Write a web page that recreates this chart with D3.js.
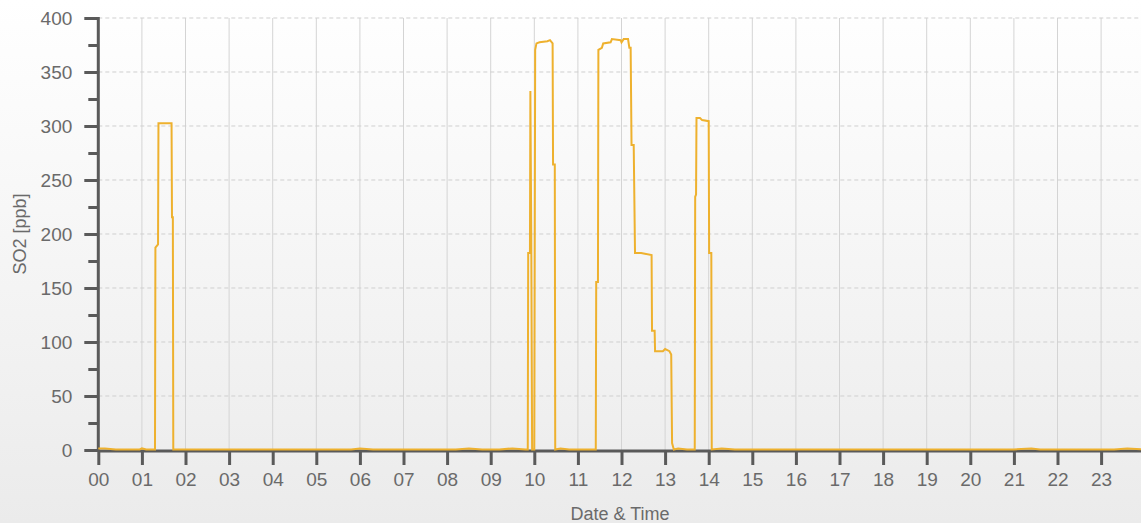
<!DOCTYPE html>
<html><head><meta charset="utf-8">
<script src="https://cdn.jsdelivr.net/npm/d3@7"></script>
<style>html,body{margin:0;padding:0;overflow:hidden;background:#fff}</style>
</head><body><svg id="c" width="1141" height="523"></svg>
<script>
// Data (hours of day, SO2 ppb)
const hours = [0,0.15,0.4,0.6,0.95,1.0,1.1,1.28,
 1.30,1.31,1.37,1.38,1.68,1.69,1.71,1.72,
 2.0,2.5,3.0,4,5,5.8,6.0,6.3,6.6,7.3,7.6,8.2,8.5,8.8,9.2,9.5,9.8,
 9.85,9.86,9.90,9.91,9.93,9.95,10.0,10.02,10.05,10.12,10.3,10.36,10.42,10.43,10.47,10.48,
 10.6,10.8,11.4,
 11.41,11.42,11.46,11.47,11.55,11.58,11.75,11.78,11.98,12.0,12.05,12.15,12.18,12.21,12.23,12.28,12.31,12.45,12.69,12.70,12.76,12.77,12.95,13.0,13.1,13.14,13.16,13.2,
 13.3,13.5,13.67,
 13.68,13.69,13.71,13.72,13.8,13.85,14.0,14.01,14.06,14.07,
 14.3,14.6,15.5,16,17,18,19,20,20.5,21,21.4,21.6,22,22.4,22.8,23.3,23.6,24];
const so2 = [1,1,0,0,0,1,0,0,
 0,187,190,302,302,215,215,0,
 0,0,0,0,0,0,1,0,0,0,0,0,1,0,0,1,0,
 0,182,182,332,200,0,0,370,376,377,378,379,376,264,264,0,
 1,0,0,
 0,155,155,370,372,376,377,380,379,377,380,380,372,372,282,282,182,182,180,110,110,91,91,93,91,88,6,0,
 1,0,0,
 0,234,236,307,307,305,304,182,182,0,
 1,0,0,0,0,0,0,0,0,0,1,0,0,0,0,0,1,0];
const xTickLabels = ["00","01","02","03","04","05","06","07","08","09","10","11","12","13","14","15","16","17","18","19","20","21","22","23"];
const yTicks = [0,50,100,150,200,250,300,350,400];
const yMinorTicks = [25,75,125,175,225,275,325,375];

const svg = d3.select("#c");
const W = 1141, H = 523;
const defs = svg.append("defs");
const g = defs.append("linearGradient").attr("id","bg").attr("x1",0).attr("y1",0).attr("x2",0).attr("y2",1);
g.append("stop").attr("offset","0%").attr("stop-color","#ffffff");
g.append("stop").attr("offset","100%").attr("stop-color","#ebebeb");
svg.append("rect").attr("width",W).attr("height",H).attr("fill","url(#bg)");

const x = d3.scaleLinear().domain([0,24]).range([98.3, 98.3+24*43.6]);
const y = d3.scaleLinear().domain([0,400]).range([450,18]);

// vertical grid
svg.append("g").selectAll("line").data(d3.range(1,25)).join("line")
  .attr("x1",d=>x(d)).attr("x2",d=>x(d)).attr("y1",y(400)).attr("y2",y(0))
  .attr("stroke","#d4d4d4").attr("stroke-width",1);
// horizontal grid
svg.append("g").selectAll("line").data(yTicks.filter(d=>d>0)).join("line")
  .attr("x1",x(0)).attr("x2",W).attr("y1",d=>y(d)).attr("y2",d=>y(d))
  .attr("stroke","#cfcfcf").attr("stroke-width",1).attr("stroke-dasharray","4,3");

// axes
const axisColor = "#5a5a5a";
const yAxis = svg.append("g").attr("transform",`translate(${x(0)},0)`)
  .call(d3.axisLeft(y).tickValues(yTicks).tickSize(14).tickPadding(12));
const yMinor = svg.append("g").attr("transform",`translate(${x(0)},0)`)
  .call(d3.axisLeft(y).tickValues(yMinorTicks).tickSize(10).tickFormat(""));
const xAxis = svg.append("g").attr("transform",`translate(0,${y(0)+1})`)
  .call(d3.axisBottom(x).tickValues(d3.range(0,24)).tickFormat(d=>xTickLabels[d]).tickSize(14).tickPadding(8));
[yAxis,yMinor,xAxis].forEach(a=>{
  a.select(".domain").remove();
  a.selectAll(".tick line").attr("stroke",axisColor).attr("stroke-width",3);
  a.selectAll("text").attr("fill","#6a6a6a").style("font-family","'Liberation Sans', Arial, sans-serif").style("font-size","19px");
});
// axis lines
svg.append("line").attr("x1",x(0)).attr("x2",x(0)).attr("y1",y(400)-1).attr("y2",y(0)+2)
  .attr("stroke",axisColor).attr("stroke-width",3);
svg.append("line").attr("x1",x(0)).attr("x2",W).attr("y1",y(0)+1).attr("y2",y(0)+1)
  .attr("stroke",axisColor).attr("stroke-width",3);

// series line
const pts = hours.map((h,i)=>[h,so2[i]]);
const line = d3.line().x(d=>x(d[0])).y(d=>y(d[1])-0.5);
svg.append("path").datum(pts).attr("d",line).attr("fill","none")
  .attr("stroke","#eeb12e").attr("stroke-width",2).attr("stroke-linejoin","miter");

// axis titles
svg.append("text").attr("x",620).attr("y",520).attr("text-anchor","middle")
  .attr("fill","#6a6a6a").style("font-family","'Liberation Sans', Arial, sans-serif").style("font-size","18px")
  .text("Date & Time");
svg.append("text").attr("transform","translate(26,234) rotate(-90)").attr("text-anchor","middle")
  .attr("fill","#6a6a6a").style("font-family","'Liberation Sans', Arial, sans-serif").style("font-size","18px")
  .text("SO2 [ppb]");
</script></body></html>
